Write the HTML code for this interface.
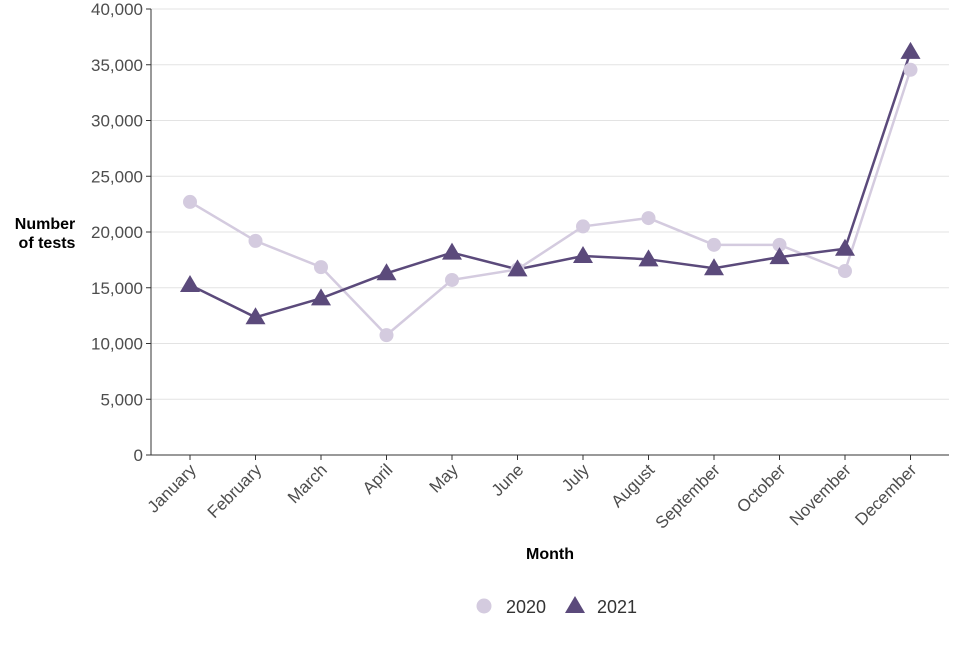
<!DOCTYPE html>
<html><head><meta charset="utf-8"><style>
body{margin:0;background:#fff;font-family:"Liberation Sans",Arial,sans-serif;}
svg text{font-family:"Liberation Sans",Arial,sans-serif;}
</style></head><body>
<svg id="chart" width="960" height="640" xmlns="http://www.w3.org/2000/svg">
<g id="grid"></g>
<g id="axes"></g>
<g id="series"></g>
<text x="45" y="229" text-anchor="middle" font-size="16" font-weight="bold" fill="#000"><tspan x="45" dy="0">Number</tspan><tspan x="47" dy="19">of tests</tspan></text>
<text x="550" y="559" text-anchor="middle" font-size="16" font-weight="bold" fill="#000">Month</text>
<g>
<g>
<circle cx="484" cy="606" r="7.5" fill="#d4cbdf"/>
<text x="506" y="613" font-size="18" fill="#333">2020</text></g>
<g>
<polygon points="575,596 585,613 565,613" fill="#5b4a7b"/>
<text x="597" y="613" font-size="18" fill="#333">2021</text></g>
</g>
</svg>
<script>
const months=["January","February","March","April","May","June","July","August","September","October","November","December"];
const values2020=[22700,19200,16850,10750,15700,16650,20500,21250,18850,18850,16500,34550];
const values2021=[15250,12350,14050,16300,18150,16650,17850,17550,16750,17750,18500,36150];
const yTicks=[0,5000,10000,15000,20000,25000,30000,35000,40000];
const NS="http://www.w3.org/2000/svg";
const x0=151,x1=949,yTop=9,yBot=455;
function xs(i){return 190+i*65.5;}
function ys(v){return yBot-(v/40000)*(yBot-yTop);}
function mk(tag,attrs,parent){const e=document.createElementNS(NS,tag);for(const k in attrs)e.setAttribute(k,attrs[k]);parent.appendChild(e);return e;}
const grid=document.getElementById('grid'),axes=document.getElementById('axes'),ser=document.getElementById('series');
yTicks.forEach(t=>{
  const y=ys(t);
  if(t>0){const g=mk('line',{x1:x0,x2:x1,y1:y,y2:y,stroke:'#e3e3e3','stroke-width':1},grid);
  
  }
  mk('line',{x1:x0-5,x2:x0,y1:y,y2:y,stroke:'#333'},axes);
  const tx=mk('text',{x:x0-8,y:y+6,'text-anchor':'end','font-size':'17',fill:'#4d4d4d'},axes);
  tx.textContent=t.toLocaleString('en-US');
  
  
});
mk('line',{x1:x0,x2:x0,y1:yTop,y2:yBot,stroke:'#333'},axes);
mk('line',{x1:x0,x2:x1,y1:yBot,y2:yBot,stroke:'#333'},axes);
months.forEach((m,i)=>{
  const x=xs(i);
  mk('line',{x1:x,x2:x,y1:yBot,y2:yBot+5,stroke:'#333'},axes);
  const tx=mk('text',{x:x+7,y:yBot+16,'text-anchor':'end','font-size':'17',fill:'#4d4d4d',transform:`rotate(-45 ${x+7} ${yBot+16})`},axes);
  tx.textContent=m;
  
  
});
function line(vals,color,name){
  const p=mk('polyline',{points:vals.map((v,i)=>xs(i)+','+ys(v)).join(' '),fill:'none',stroke:color,'stroke-width':2.5},ser);
  
  
}
line(values2020,'#d4cbdf','line-2020');
line(values2021,'#5b4a7b','line-2021');
values2020.forEach((v,i)=>{
  const c=mk('circle',{cx:xs(i),cy:ys(v),r:7,fill:'#d4cbdf'},ser);
  
  
});
values2021.forEach((v,i)=>{
  const x=xs(i),y=ys(v);
  const t=mk('polygon',{points:`${x},${y-10} ${x+10},${y+7} ${x-10},${y+7}`,fill:'#5b4a7b'},ser);
  
  
});
</script>
</body></html>
